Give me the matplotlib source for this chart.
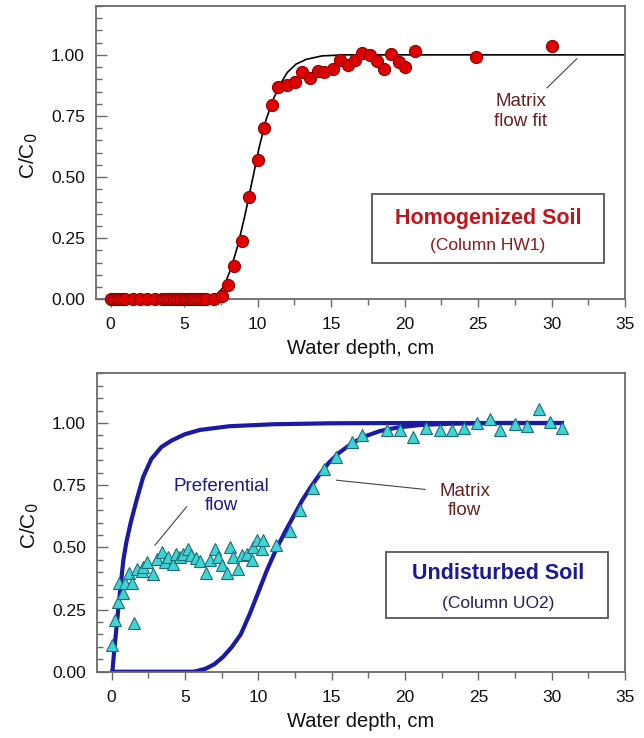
import numpy as np
import matplotlib
matplotlib.use("Agg")
import matplotlib.pyplot as plt
from matplotlib.patches import Rectangle
from matplotlib.ticker import MultipleLocator

plt.rcParams['font.family'] = ['Liberation Sans', 'DejaVu Sans']

# =========================
# DATA
# =========================
# Homogenized soil (column HW1)
hw_x = [0, 0.2, 0.4, 0.6, 0.8, 1.0, 1.5, 2.0, 2.5, 3.0, 3.5, 3.7, 3.9, 4.1, 4.3,
        4.5, 4.7, 4.9, 5.1, 5.3, 5.5, 5.7, 5.9, 6.1, 6.3, 6.5, 7.0,
        7.6, 8.0, 8.39, 8.96, 9.43, 10.03, 10.46, 10.99, 11.42, 12.01, 12.54,
        13.04, 13.57, 14.12, 14.52, 15.12, 15.6, 16.12, 16.6, 17.08, 17.63,
        18.1, 18.58, 19.06, 19.59, 20.06, 20.73, 24.84, 30.0]
hw_y = [0] * 27 + [
        0.015, 0.057, 0.135, 0.238, 0.418, 0.568, 0.702, 0.795, 0.869, 0.877,
        0.887, 0.928, 0.907, 0.934, 0.928, 0.941, 0.978, 0.959, 0.978, 1.009,
        1.0, 0.975, 0.941, 1.003, 0.971, 0.952, 1.016, 0.993, 1.037]

# matrix flow fit (top)
fit_x = [0, 6.5, 6.85, 7.24, 7.71, 8.2, 8.67, 9.15, 9.63, 10.1, 10.58, 11.06,
         11.54, 12.02, 12.61, 13.33, 14.4, 16.0, 35.0]
fit_y = [0, 0, 0.005, 0.019, 0.053, 0.128, 0.224, 0.347, 0.484, 0.62, 0.736,
         0.818, 0.88, 0.928, 0.962, 0.982, 0.996, 1.0, 1.0]

# Undisturbed soil (column UO2)
uo_x = [0.02, 0.22, 0.45, 0.52, 0.79, 0.91, 1.2, 1.36, 1.55, 1.7, 2.05, 2.15,
        2.43, 2.84, 3.07, 3.41, 3.63, 3.86, 4.2, 4.38, 4.66, 4.88, 5.18, 5.38,
        5.75, 6.02, 6.43, 6.7, 7.04, 7.27, 7.5, 7.84, 8.06, 8.29, 8.63, 8.86,
        9.2, 9.54, 9.65, 9.88, 10.22, 10.33, 11.2, 12.15, 12.84, 13.7, 14.49,
        15.29, 16.36, 17.05, 18.8, 19.69, 20.57, 21.43, 22.4, 23.22, 24.05,
        24.92, 25.77, 26.5, 27.47, 28.3, 29.13, 29.89, 30.72]
uo_y = [0.107, 0.208, 0.279, 0.357, 0.317, 0.357, 0.398, 0.355, 0.197, 0.415,
        0.404, 0.42, 0.44, 0.392, 0.455, 0.482, 0.442, 0.462, 0.435, 0.475,
        0.462, 0.475, 0.495, 0.469, 0.459, 0.446, 0.395, 0.449, 0.495, 0.462,
        0.428, 0.395, 0.502, 0.462, 0.415, 0.469, 0.475, 0.449, 0.502, 0.529,
        0.495, 0.529, 0.509, 0.565, 0.649, 0.737, 0.814, 0.863, 0.924, 0.953,
        0.973, 0.973, 0.944, 0.981, 0.973, 0.973, 0.981, 1.0, 1.016, 0.973,
        0.998, 0.99, 1.058, 1.004, 0.981]

# preferential flow curve
pref_x = [0.05, 0.2, 0.4, 0.6, 0.8, 1.0, 1.3, 1.7, 2.15, 2.7, 3.4, 4.1, 5.0,
          6.0, 8.0, 11.0, 15.0, 20.0, 30.7]
pref_y = [0.0, 0.1, 0.22, 0.34, 0.45, 0.52, 0.6, 0.69, 0.783, 0.855, 0.904,
          0.93, 0.955, 0.972, 0.987, 0.995, 0.999, 1.0, 1.0]

# matrix flow curve (bottom)
mat_x = [0.05, 5.6, 6.4, 7.0, 7.6, 8.2, 8.8, 9.4, 10.0, 10.6, 11.2, 11.8, 12.4,
         13.0, 13.6, 14.2, 14.8, 15.5, 16.3, 17.2, 18.3, 19.5, 21.0, 23.0,
         26.0, 30.7]
mat_y = [0, 0, 0.012, 0.03, 0.06, 0.1, 0.15, 0.23, 0.32, 0.41, 0.49, 0.56,
         0.625, 0.69, 0.745, 0.795, 0.84, 0.88, 0.915, 0.945, 0.968, 0.982,
         0.992, 0.997, 1.0, 1.0]

yticks = [0.0, 0.25, 0.5, 0.75, 1.0]
xticks = [0, 5, 10, 15, 20, 25, 30, 35]

SPINE = '#6a6a6a'
BLUE = '#1a1aa6'


def style_axes(ax):
    ax.set_xlim(-1, 35)
    ax.set_ylim(0, 1.2)
    ax.set_xticks(xticks)
    ax.set_yticks(yticks)
    ax.set_yticklabels([f"{v:.2f}" for v in yticks])
    ax.xaxis.set_minor_locator(MultipleLocator(2.5))
    ax.yaxis.set_minor_locator(MultipleLocator(0.05))
    ax.tick_params(axis='x', which='both', direction='out', color=SPINE,
                   width=1.0, labelsize=12.5, pad=7, labelcolor='#111111')
    ax.tick_params(axis='x', which='major', length=6)
    ax.tick_params(axis='x', which='minor', length=4)
    ax.tick_params(axis='y', which='both', direction='in', color=SPINE,
                   width=1.0, labelsize=12.5, pad=8, labelcolor='#111111')
    ax.tick_params(axis='y', which='major', length=8)
    ax.tick_params(axis='y', which='minor', length=4)
    for s in ax.spines.values():
        s.set_color(SPINE)
        s.set_linewidth(1.3)
    ax.set_xlabel("Water depth, cm", fontsize=14.5, labelpad=5, color='#111111')
    ax.set_ylabel("C/C$_0$", fontsize=15, color='#111111', va='center')
    ax.yaxis.set_label_coords(-0.128, 0.49)


fig = plt.figure(figsize=(6.44, 7.38), dpi=100)
ax1 = fig.add_axes([0.149, 0.5944, 0.8215, 0.3975])
ax2 = fig.add_axes([0.1506, 0.0898, 0.8199, 0.4044])

# =========================
# TOP PANEL
# =========================
ax1.plot(fit_x, fit_y, color='black', lw=1.2, zorder=2)
ax1.plot(hw_x, hw_y, 'o', ms=8.7, mfc='#e00000', mec='#8b0000', mew=0.8,
         zorder=3, clip_on=False)
style_axes(ax1)

ax1.text(27.9, 0.768, "Matrix\nflow fit", fontsize=13.5, color='#6a1f1f',
         ha='center', va='center', linespacing=1.2)
ax1.plot([29.69, 31.72], [0.865, 0.984], color='#444444', lw=0.8)

ax1.add_patch(Rectangle((0.521, 0.1227), 0.439, 0.2363, transform=ax1.transAxes,
                        fill=False, ec='#555555', lw=1.3))
ax1.text(0.741, 0.276, "Homogenized Soil", transform=ax1.transAxes,
         fontsize=15.5, fontweight='bold', color='#c0161c', ha='center', va='center')
ax1.text(0.741, 0.185, "(Column HW1)", transform=ax1.transAxes,
         fontsize=12.5, color='#8b1a1a', ha='center', va='center')

# =========================
# BOTTOM PANEL
# =========================
ax2.plot(pref_x, pref_y, color=BLUE, lw=3, zorder=2)
ax2.plot(mat_x, mat_y, color=BLUE, lw=3, zorder=2)
ax2.plot(uo_x, uo_y, '^', ms=9, mfc='#3fd4d4', mec='#1f6f7a', mew=0.8,
         zorder=3, clip_on=False)
style_axes(ax2)

ax2.text(7.45, 0.706, "Preferential\nflow", fontsize=13.5, color='#1a1a8c',
         ha='center', va='center', linespacing=1.2)
ax2.plot([5.11, 2.95], [0.663, 0.509], color='#444444', lw=0.8)

ax2.text(24.08, 0.686, "Matrix\nflow", fontsize=13.5, color='#6a1f1f',
         ha='center', va='center', linespacing=1.2)
ax2.plot([15.34, 21.36], [0.77, 0.733], color='#444444', lw=0.8)

ax2.add_patch(Rectangle((0.548, 0.179), 0.419, 0.223, transform=ax2.transAxes,
                        fill=False, ec='#555555', lw=1.3))
ax2.text(0.759, 0.33, "Undisturbed Soil", transform=ax2.transAxes,
         fontsize=15.5, fontweight='bold', color='#1a1a99', ha='center', va='center')
ax2.text(0.759, 0.229, "(Column UO2)", transform=ax2.transAxes,
         fontsize=12.5, color='#22225a', ha='center', va='center')

fig.savefig("out.png", dpi=100)
